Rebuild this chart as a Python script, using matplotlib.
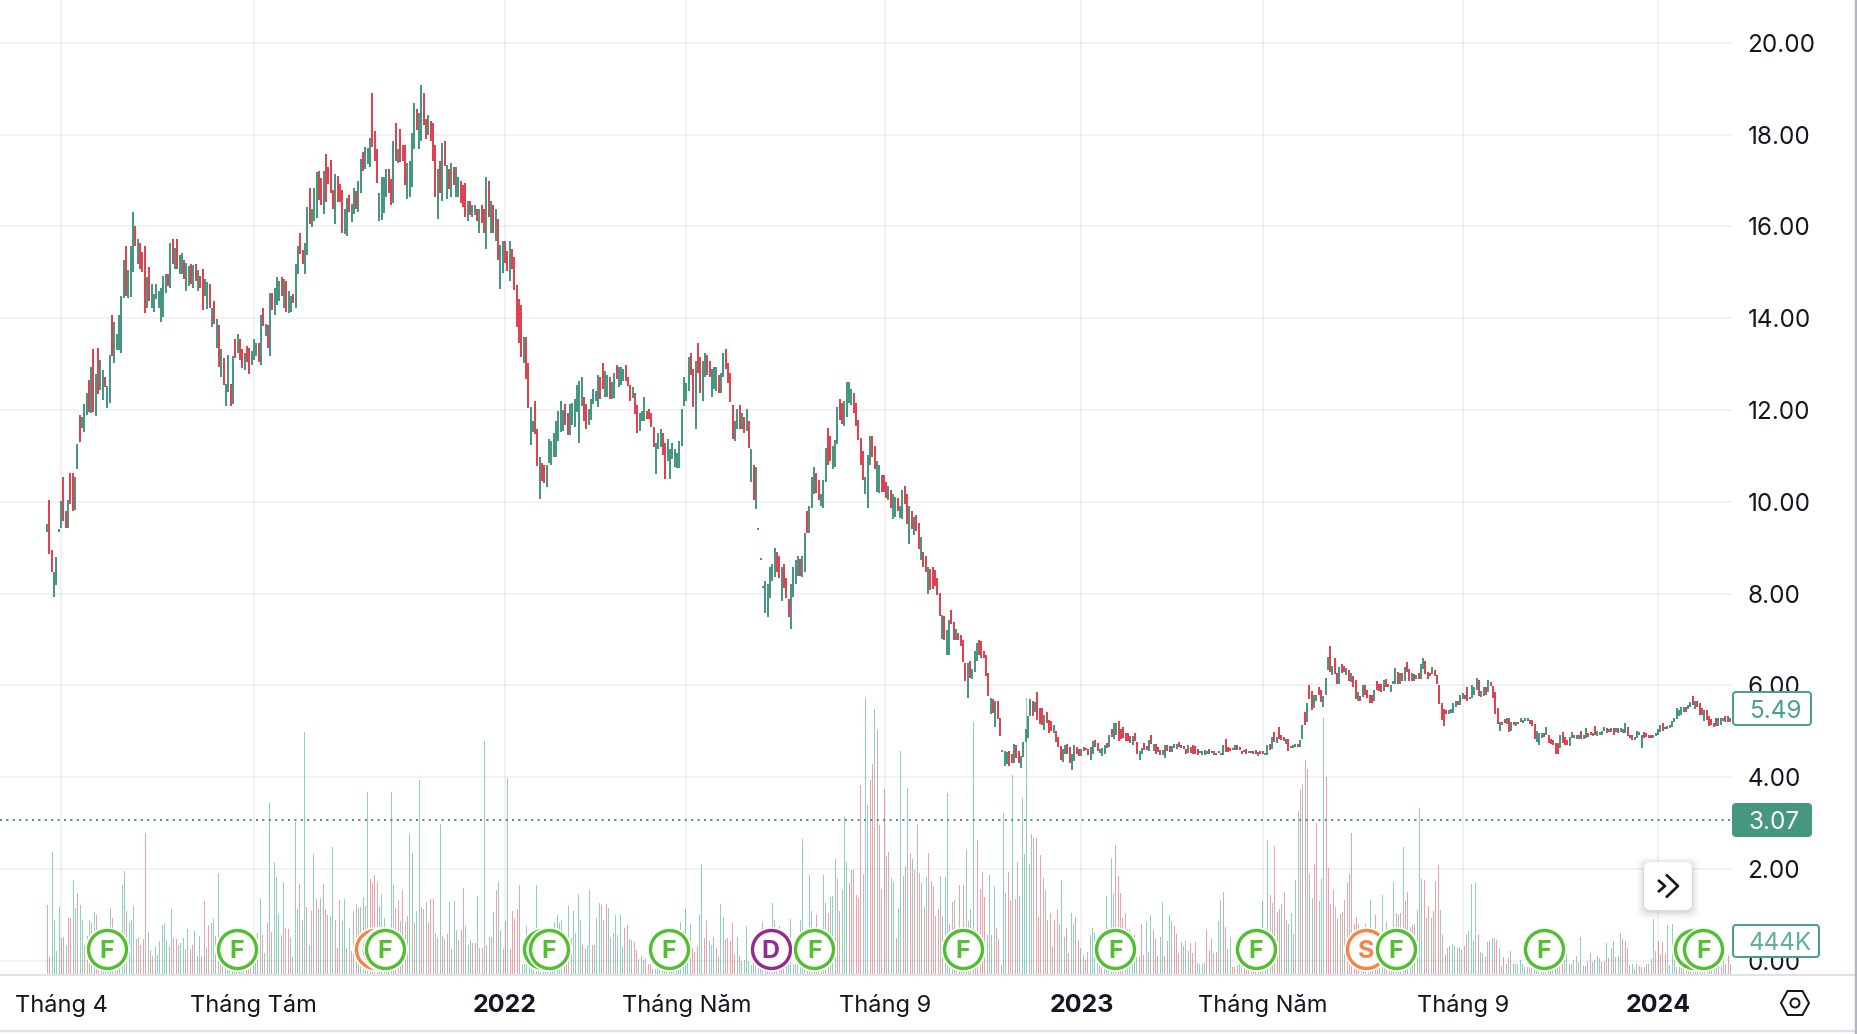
import numpy as np
import matplotlib
matplotlib.use("Agg")
import matplotlib.pyplot as plt
from matplotlib.patches import FancyBboxPatch, Circle, Polygon

plt.rcParams['font.family'] = ['Inter', 'DejaVu Sans']

highs = [
    9.52,10.05,8.96,8.48,8.79,9.41,10.02,10.54,9.80,10.05,
    10.62,10.62,10.54,11.26,11.89,11.84,12.13,12.37,12.65,12.93,
    13.32,12.78,13.35,13.09,12.87,12.72,12.52,13.20,14.07,13.91,
    13.66,14.07,14.49,15.27,15.57,15.05,15.57,16.31,16.01,15.73,
    15.64,15.44,15.57,14.89,15.11,14.75,14.53,14.75,14.59,14.66,
    14.92,14.96,14.96,15.64,15.73,15.53,15.73,15.38,15.42,15.27,
    15.21,15.14,15.18,15.16,15.18,15.05,14.92,15.07,14.86,14.79,
    14.75,14.23,14.37,13.98,13.85,13.33,13.14,12.57,13.20,12.57,
    13.17,13.55,13.66,13.55,13.32,13.25,13.39,13.35,13.28,13.55,
    13.46,13.46,14.07,14.23,13.88,13.85,14.55,14.55,14.66,14.89,
    14.81,14.89,14.86,14.81,14.59,14.49,14.53,15.18,15.57,15.86,
    15.49,15.64,16.42,16.84,16.38,16.84,17.18,17.21,17.06,17.21,
    17.58,17.29,17.45,16.79,17.14,17.10,16.93,16.79,16.38,16.62,
    16.68,16.49,16.84,16.77,16.99,17.47,17.62,17.73,17.71,17.93,
    18.91,18.08,17.68,16.73,17.07,17.07,17.25,17.25,17.04,17.86,
    18.25,17.69,18.12,17.77,17.77,17.39,17.42,18.04,18.69,18.55,
    18.47,19.08,18.91,18.34,18.43,18.30,18.25,17.77,17.25,17.42,
    17.82,17.86,17.34,17.25,17.39,17.29,17.29,17.07,16.99,16.90,
    16.95,16.55,16.55,16.47,16.47,16.38,16.38,16.47,16.38,17.07,
    16.99,16.55,16.47,16.38,16.16,15.60,15.68,15.68,15.46,15.68,
    15.51,15.33,14.72,14.42,14.29,13.59,13.59,13.03,12.06,11.76,
    12.19,11.58,10.97,10.85,10.80,10.80,11.37,11.32,11.50,11.76,
    11.98,12.20,12.01,12.14,11.93,12.14,12.16,12.24,12.54,12.63,
    12.72,12.28,12.14,12.02,12.24,12.46,12.41,12.76,12.72,13.02,
    12.85,12.76,12.72,12.60,12.80,12.98,12.93,12.93,12.89,12.98,
    12.72,12.54,12.50,12.37,12.11,11.93,11.98,12.28,11.98,12.02,
    11.93,11.63,11.28,11.50,11.59,11.50,11.28,11.37,11.15,11.28,
    11.15,11.07,11.33,12.02,12.72,12.59,13.15,13.24,12.89,13.07,
    13.46,13.15,13.07,13.24,13.20,13.07,12.89,12.93,12.93,12.76,
    12.80,13.24,13.33,13.02,12.80,12.11,11.76,12.02,12.11,11.93,
    11.85,12.02,11.76,11.15,10.80,10.76,9.43,8.78,8.17,8.28,
    8.20,8.57,8.65,9.00,8.91,8.83,8.57,8.65,8.35,7.89,
    8.20,8.57,8.74,8.83,8.76,8.83,9.33,9.80,9.91,10.54,
    10.76,10.63,10.48,10.17,10.48,11.17,11.61,11.43,11.22,11.35,
    12.07,12.24,12.15,12.20,12.61,12.61,12.46,12.37,12.15,11.78,
    11.39,11.11,10.54,11.02,11.43,11.43,11.22,10.89,10.80,10.59,
    10.59,10.43,10.35,10.26,10.17,10.11,10.09,9.91,10.26,10.35,
    10.17,9.91,9.80,9.67,9.72,9.54,9.24,8.91,8.83,8.59,
    8.54,8.59,8.52,8.35,8.02,7.54,7.52,7.20,7.43,7.65,
    7.39,7.22,7.15,7.09,7.00,6.48,6.48,6.54,6.35,6.76,
    6.93,6.98,6.96,6.76,6.67,6.28,5.72,5.70,5.67,5.65,
    5.28,4.59,4.57,4.54,4.57,4.50,4.72,4.70,4.57,4.46,
    4.76,5.04,5.33,5.70,5.67,5.63,5.85,5.50,5.50,5.35,
    5.41,5.24,5.22,5.13,5.00,4.87,4.67,4.61,4.70,4.72,
    4.65,4.50,4.70,4.65,4.61,4.61,4.65,4.63,4.61,4.65,
    4.78,4.80,4.74,4.61,4.63,4.70,4.74,4.91,5.04,5.17,
    5.17,5.22,5.04,5.09,4.96,4.96,4.89,4.89,4.96,4.76,
    4.57,4.63,4.74,4.67,4.80,4.91,4.72,4.72,4.65,4.59,
    4.59,4.70,4.70,4.67,4.67,4.72,4.72,4.76,4.70,4.67,
    4.61,4.70,4.65,4.70,4.67,4.61,4.57,4.57,4.59,4.57,
    4.61,4.57,4.57,4.52,4.57,4.52,4.70,4.83,4.65,4.63,
    4.63,4.70,4.70,4.65,4.57,4.59,4.61,4.57,4.57,4.57,
    4.59,4.54,4.57,4.57,4.52,4.70,4.72,4.87,4.98,4.87,
    5.09,4.91,4.87,4.83,4.83,4.67,4.70,4.72,4.72,4.80,
    5.13,5.41,5.61,6.00,5.87,5.80,5.78,5.96,5.91,5.76,
    6.17,6.61,6.85,6.43,6.59,6.26,6.39,6.46,6.43,6.37,
    6.33,6.28,6.20,6.11,5.85,5.76,6.00,6.00,5.91,5.80,
    5.80,5.91,6.09,6.02,6.04,6.11,6.13,6.04,6.00,6.09,
    6.37,6.30,6.26,6.26,6.39,6.52,6.35,6.26,6.24,6.22,
    6.28,6.46,6.59,6.54,6.30,6.28,6.39,6.33,6.22,6.00,
    5.61,5.48,5.46,5.46,5.48,5.61,5.67,5.67,5.78,5.83,
    5.78,5.96,5.74,6.00,5.96,6.17,6.11,5.87,5.96,5.96,
    6.11,6.07,5.98,5.85,5.50,5.20,5.20,5.26,5.30,5.30,
    5.20,5.20,5.20,5.20,5.28,5.24,5.30,5.28,5.24,5.24,
    5.15,5.00,4.96,4.96,4.96,5.09,4.91,4.83,4.80,4.74,
    4.74,4.91,4.98,4.87,4.80,4.87,4.98,4.93,4.91,4.91,
    5.00,4.93,5.07,4.96,4.98,4.96,5.11,5.00,4.98,5.00,
    5.09,5.07,5.04,5.07,5.07,5.07,5.07,5.07,5.04,5.17,
    5.09,4.91,4.91,4.87,5.00,4.98,4.93,4.98,4.96,4.93,
    4.91,4.93,4.96,5.04,5.13,5.17,5.09,5.11,5.13,5.22,
    5.30,5.50,5.46,5.54,5.54,5.52,5.57,5.63,5.76,5.67,
    5.65,5.61,5.50,5.46,5.46,5.33,5.26,5.17,5.30,5.30,
    5.30,5.30,5.33,5.33,5.28,
]
lows = [
    9.34,8.86,8.47,7.93,8.19,9.34,9.43,9.59,9.42,9.42,
    9.95,9.80,9.82,10.72,11.30,11.61,11.52,11.90,11.96,11.94,
    11.96,11.87,12.35,12.43,12.22,12.51,12.05,12.16,13.17,13.03,
    13.31,13.31,13.25,14.45,14.49,14.43,14.47,15.01,15.58,15.17,
    15.07,15.01,14.12,14.23,14.37,14.23,14.14,14.41,14.23,13.92,
    14.02,14.55,14.71,14.65,15.17,15.07,15.07,14.97,14.97,14.86,
    14.59,14.70,14.74,14.65,14.82,14.59,14.66,14.18,14.49,14.19,
    14.23,13.81,13.87,13.35,12.93,12.72,12.55,12.09,12.39,12.09,
    12.13,13.13,13.25,13.09,12.92,12.87,13.04,12.79,12.99,13.09,
    13.17,13.04,12.99,13.83,13.61,13.35,13.18,14.18,14.07,14.29,
    14.37,14.49,14.23,14.13,14.12,14.14,14.33,14.23,14.96,15.40,
    15.18,14.97,15.38,16.05,15.98,16.12,16.19,16.58,16.47,16.26,
    16.53,16.93,16.73,16.37,16.05,16.53,16.53,15.86,15.84,15.80,
    16.32,16.09,16.26,16.38,16.32,16.73,17.21,17.25,17.36,17.30,
    17.74,17.42,16.95,16.12,16.14,16.30,16.64,16.73,16.47,16.51,
    17.42,17.39,17.41,17.42,16.90,16.60,16.64,16.86,17.69,18.09,
    17.69,17.86,18.21,17.91,17.99,17.86,17.42,16.64,16.16,16.73,
    16.56,17.32,16.60,16.82,16.64,16.90,16.64,16.64,16.51,16.42,
    16.20,16.12,16.25,16.20,16.25,16.12,15.86,16.08,15.86,15.51,
    16.20,15.86,15.86,15.68,15.27,14.64,14.99,15.21,15.03,14.81,
    15.07,14.62,13.81,13.46,13.15,13.03,12.68,12.05,11.24,11.52,
    11.47,10.78,10.07,10.45,10.41,10.33,10.85,10.80,10.97,10.97,
    11.33,11.51,11.54,11.67,11.46,11.46,11.67,11.64,11.96,11.29,
    12.09,11.77,11.59,11.67,11.78,12.14,12.20,12.07,12.24,12.46,
    12.28,12.28,12.25,12.24,12.27,12.67,12.50,12.54,12.63,12.63,
    12.53,12.20,12.26,11.92,11.50,11.54,11.76,11.76,11.80,11.80,
    11.63,11.20,10.61,11.15,11.20,11.02,10.50,10.89,10.50,10.93,
    10.76,10.74,10.74,11.22,12.09,12.20,12.41,12.76,12.07,11.59,
    12.80,12.37,12.20,12.72,12.76,12.72,12.28,12.46,12.41,12.37,
    12.37,12.72,12.89,12.59,12.18,11.37,11.33,11.59,11.59,11.59,
    11.50,11.54,11.17,10.43,10.04,9.85,9.39,8.74,8.13,7.57,
    7.48,7.91,8.28,8.37,8.48,8.35,7.83,8.13,7.91,7.48,
    7.22,7.93,8.20,8.39,8.39,8.37,8.46,9.33,9.33,9.87,
    10.18,10.19,10.04,9.91,9.87,10.43,10.80,10.89,10.72,10.76,
    11.26,11.78,11.70,11.65,11.85,12.15,12.11,11.93,11.65,11.35,
    10.80,10.48,10.17,9.87,10.80,10.98,10.72,10.22,10.20,10.22,
    10.22,10.09,10.04,9.87,9.63,9.67,9.80,9.65,9.63,9.96,
    9.52,9.09,9.41,9.28,9.37,8.98,8.74,8.57,8.48,8.00,
    8.07,8.11,8.17,7.98,7.52,7.02,6.98,6.67,6.67,7.33,
    7.00,7.00,7.00,6.86,6.52,6.09,5.72,6.17,6.13,6.30,
    6.54,6.67,6.60,6.59,6.20,5.76,5.37,5.39,5.09,5.26,
    4.89,4.54,4.24,4.28,4.24,4.30,4.30,4.41,4.30,4.20,
    4.43,4.76,4.85,5.33,5.33,5.43,5.24,5.15,5.13,5.02,
    5.17,4.96,5.00,4.96,4.76,4.65,4.37,4.33,4.50,4.50,
    4.30,4.15,4.35,4.50,4.46,4.46,4.57,4.59,4.48,4.37,
    4.50,4.65,4.57,4.52,4.46,4.50,4.63,4.65,4.87,4.83,
    4.93,4.78,4.83,4.85,4.78,4.78,4.74,4.70,4.78,4.50,
    4.37,4.50,4.59,4.59,4.57,4.72,4.57,4.50,4.54,4.48,
    4.48,4.41,4.57,4.54,4.54,4.63,4.61,4.65,4.63,4.61,
    4.50,4.52,4.52,4.50,4.50,4.48,4.52,4.48,4.48,4.50,
    4.50,4.52,4.48,4.48,4.52,4.48,4.48,4.54,4.54,4.57,
    4.59,4.59,4.59,4.59,4.50,4.54,4.50,4.52,4.52,4.50,
    4.50,4.46,4.50,4.50,4.48,4.48,4.59,4.61,4.76,4.74,
    4.83,4.80,4.78,4.72,4.57,4.63,4.63,4.65,4.65,4.65,
    4.83,5.13,5.20,5.70,5.46,5.50,5.67,5.78,5.63,5.54,
    5.78,6.33,6.30,6.22,6.24,6.04,6.02,6.28,6.30,6.22,
    6.09,6.07,5.96,5.70,5.67,5.67,5.74,5.78,5.72,5.61,
    5.61,5.67,5.89,5.87,5.85,5.87,5.96,5.96,5.85,6.02,
    6.02,6.04,6.04,6.09,6.09,6.30,6.09,6.09,6.09,6.13,
    6.13,6.15,6.35,6.24,6.13,6.20,6.24,6.20,6.02,5.59,
    5.24,5.11,5.37,5.37,5.39,5.39,5.52,5.57,5.57,5.70,
    5.70,5.67,5.70,5.72,5.78,5.89,5.76,5.74,5.76,5.80,
    5.85,5.98,5.72,5.37,5.15,5.00,5.13,5.17,5.15,4.98,
    5.00,5.13,5.11,5.15,5.20,5.17,5.22,5.22,5.15,5.11,
    4.83,4.76,4.70,4.85,4.87,4.91,4.74,4.72,4.70,4.50,
    4.50,4.63,4.74,4.70,4.70,4.67,4.85,4.85,4.83,4.83,
    4.83,4.83,4.85,4.87,4.93,4.89,4.91,4.89,4.91,4.91,
    5.00,4.96,4.98,4.98,4.91,4.98,4.96,4.98,4.96,4.96,
    4.89,4.85,4.80,4.80,4.85,4.91,4.63,4.85,4.87,4.85,
    4.85,4.85,4.89,4.91,4.98,5.00,5.04,5.04,5.07,5.09,
    5.20,5.26,5.33,5.35,5.43,5.43,5.48,5.54,5.57,5.48,
    5.54,5.35,5.35,5.22,5.24,5.11,5.13,5.09,5.11,5.11,
    5.13,5.22,5.20,5.20,5.20,
]
# r = closed down, g = closed up, one letter per bar
candle_dirs = (
    "grrggggrrg" "rrggrgggrg" "rgrggrggrg" "ggggrgggrg" "rrrgrggggg"
    "ggrgrgrggr" "ggrgrgrrgg" "rgrgrgrggr" "grgrrgrrgg" "grgrgrgrgg"
    "grgrggrggr" "rggrgggrrg" "rrrrgrrrgg" "rggrggrggg" "rrrggggrrg"
    "rgrrrggggr" "ggrrgrrrgr" "grgrgrggrr" "rgrggrgrrg" "rgrgrggrrg"
    "rrrrrgrrgg" "rrgrrggggg" "gggrrggggg" "grrgggggrr" "ggrggrgggr"
    "rrgrrgggrr" "rrgggrrggg" "gggggggrrg" "rrggrrgggr" "ggrrrrggrg"
    "rgrgrggggg" "ggggrrgrrr" "ggggrggrgg" "grrgggrrgg" "grrggggrrr"
    "rrgggrrggr" "rrgrggrggr" "rgrgrrgrrg" "rrrrrgrggr" "rgrrrrgrgg"
    "grrrrrgrgr" "rgggrrgrrg" "ggggrgrrrg" "rrrgrrrggr" "rggrrgrrrg"
    "grrgggrgrg" "grrrrrrgrr" "ggrrgrgrrr" "ggrrgggrrr" "rgrrrrgggg"
    "rrgrrggrrr" "ggrrrgrggr" "rgrrggrgrg" "rrrgrgggrg" "grgrrggrrg"
    "ggrgrrgrrg" "rgrrgrgrrr" "rgrrrgrrgg" "grgrgrrgrg" "rggrrrgrrr"
    "rrrggggrgg" "rrggggrggr" "grrrrgrrgr" "grgrggggrr" "rgggrgrrrr"
    "rgrrrggrgg" "rggrrgrggg" "grrgrgrggg" "rrrggggrrr" "rggggrrggg"
    "gggggrggrg" "rrrgrrrrrg" "ggrrg"
)
price_ticks = [0, 2, 4, 6, 8, 10, 12, 14, 16, 18, 20]
price_labels = ['0.00', '2.00', '4.00', '6.00', '8.00', '10.00', '12.00', '14.00', '16.00', '18.00', '20.00']
time_bars = [6, 89, 197, 275, 360.5, 445, 523, 609, 693]
time_labels = ['Tháng 4', 'Tháng Tám', '2022', 'Tháng Năm', 'Tháng 9', '2023', 'Tháng Năm', 'Tháng 9', '2024']
year_labels = ['2022', '2023', '2024']
event_bars = [25.7, 81.6, 141.1, 144.4, 145.3, 213.2, 215.9, 267.4, 311.3, 330.1, 394, 459.6, 519.9, 567.3, 580.2, 643.9, 708.7, 712.6]
event_kinds = ['F', 'F', 'S', 'D', 'F', 'F', 'F', 'F', 'D', 'F', 'F', 'F', 'F', 'S', 'F', 'F', 'F', 'F']
# letters that stay visible, the others sit under the next badge
event_letters = ['F', 'F', '', '', 'F', '', 'F', 'F', 'D', 'F', 'F', 'F', 'F', 'S', 'F', 'F', '', 'F']

volumes = [
    960,235,1690,750,320,925,495,510,410,780,
    780,1300,915,1125,965,750,410,530,750,720,
    855,825,320,85,85,85,85,915,780,225,
    175,225,1235,1430,875,720,755,940,480,510,
    410,480,1965,580,335,250,395,270,455,680,
    695,455,395,900,495,480,405,430,495,345,
    620,345,405,595,250,530,250,1010,380,680,
    705,765,530,1400,545,175,85,85,85,85,
    85,85,85,85,85,85,590,590,135,225,
    570,1040,545,295,715,2380,590,1555,1345,840,
    545,1275,640,630,520,235,2115,900,1245,755,
    3370,925,410,875,1665,1040,900,1050,1245,905,
    825,800,1765,755,355,1025,735,1040,360,640,
    320,875,975,915,925,1065,950,2530,1320,1270,
    1370,1285,940,1115,780,545,640,2530,1235,915,
    1025,730,1165,720,800,1940,1680,705,880,2700,
    925,900,1000,720,1040,1040,565,505,2085,530,
    480,560,1000,345,1010,605,470,610,1190,670,
    410,470,435,435,1085,355,365,3240,410,515,
    515,865,1165,1275,605,345,735,2720,345,875,
    765,905,1235,135,135,665,250,170,125,1235,
    170,125,100,85,85,85,85,720,815,715,
    750,380,435,940,505,875,570,1115,750,410,
    345,410,1165,410,410,775,990,965,755,975,
    915,505,570,815,545,
    815,380,640,680,480,470,445,330,210,250,
    200,210,135,135,65,65,85,85,85,85,
    85,85,85,85,85,85,720,595,905,360,
    695,360,310,385,815,1535,505,750,455,410,
    515,360,245,970,795,480,505,455,720,275,
    515,250,180,200,665,180,125,360,335,85,
    85,720,85,85,85,985,750,595,665,285,
    320,370,540,765,135,135,180,750,1880,85,
    135,1370,875,555,815,135,555,1370,990,845,
    1065,1090,1595,1325,880,1165,2185,1560,1260,1440,
    1440,1105,1050,
    2625,1390,3830,2355,2695,2915,3690,3390,2070,1180,
    2570,1640,1700,1335,1280,505,910,3105,1360,1500,
    2580,1680,1600,1445,2080,1410,1265,930,1350,1680,
    1290,1220,805,900,1360,800,1350,2510,700,1000,
    1030,470,1235,610,1235,1720,735,900,3500,610,
    1860,1180,1415,1070,540,1375,540,1220,640,490,
    125,2235,1125,1415,1030,2765,1040,1555,1085,2445,
    1665,3830,1530,1950,1890,1890,790,1650,1335,1165,
    750,850,390,750,900,695,1305,510,640,290,
    850,695,790,470,360,265,195,305,540,640,
    565,150,120,100,120,
    1090,300,1610,1115,1800,1360,1120,780,845,620,
    620,410,545,420,250,695,260,720,300,815,
    605,505,250,520,1000,250,460,825,735,665,
    550,285,445,385,465,320,430,295,445,155,
    135,135,155,605,330,505,295,310,735,1025,
    1135,655,345,515,
    100,100,120,150,120,100,90,80,90,100,110,100,90,
    1015,225,1860,1100,990,1780,860,905,975,1140,750,700,850,555,1305,
    2265,2555,2640,2970,2850,1390,1055,1530,2100,1015,1335,3555,2735,1470,970,1165,
    930,765,835,860,1030,1280,1390,1960,700,790,700,
    330,300,695,260,1030,300,820,200,300,1100,250,720,200,200,
    1280,850,820,850,1765,1015,1140,650,680,695,890,2305,1320,1305,780,945,780,875,
    1290,1515,890,540,265,360,390,415,390,360,370,330,390,540,600,1250,460,1280,
    550,305,290,235,445,460,495,500,470,365,110,235,135,235,320,155,145,135,195,135,
    100,100,100,100,100,100,100,100,100,100,100,100,100,100,100,
    195,135,275,400,135,140,200,250,160,515,110,110,180,290,170,190,250,225,170,180,
    430,225,360,460,240,250,570,485,460,360,125,145,65,135,110,100,95,135,135,215,
    765,320,460,275,450,275,675,125,695,275,
    100,100,100,100,100,100,100,100,100,100,100,100,100,100,100,100,100,100,
    106,110,180,135,265,135,
]
volume_dirs = (
    "rrggggrrgr" "rggrggrrgr" "grrgggggrr" "ggggrgggrg" "rrrgrrgggg"
    "ggrgrrgggr" "grrgrgrrgr" "ggrgrggggg" "grrggrrrgg" "rgrgrgrggg"
    "rgrrgrggrg" "grgrgrggrr" "rggrrrggrg" "rrgrggrgrr" "rrgggrrggr"
    "rgrgrggrgg" "rrgrrrgrgr" "grgrggrrrg" "ggrrgrrgrg" "rgrggrrgrr"
    "rrrggggggg" "rgggrggggg" "grrgrggggr" "rggrgggrgr" "ggrgg"
    "ggrrggrrgg" "rrrrgggggg" "gggggggggg" "grrrggrrgg" "grgggrrrrr"
    "grgggggrgg" "gggrggrggr" "rgggrggggr" "rggrrgggrr" "gggrrgggrr"
    "rrr"
    "rgggrrgrrr" "rgrggrggrr" "grgrrgrrgr" "rrrrgrgggr" "grrgrgrggr"
    "rrrrggrgrr" "gggrrgrrgg" "gggrgrrrgr" "rrgrrrggrr" "ggrrgrrrgg"
    "ggrrg"
    "ggggrrrrrg" "ggggrrrgrg" "rrrggrrggr" "rrgrggrrrg" "gggrrgrrgg"
    "rrgg"
    "rrgrgrrrrrrgr"
    "gggrgrrrgrgggrg"
    "grgrrggrrgggrrrr"
    "grrgrgrrrrg"
    "grrggrrrggrrrg"
    "grgrgrrgrgrggrgrgr"
    "rrgrrgrggrggrrgggg"
    "rggrrrgrrgrrgrgggggg"
    "grgrgrgrgrgrgrg"
    "rrggrggrggrrgrggggrr"
    "grgrgggrrrgggrrrrgrg"
    "grrgrrgggg"
    "grgrgrgrgrgrgrgrgr"
    "ggrrrg"
)

NAVY = '#131722'
GREEN = '#459782'
RED = '#e0434f'
VOL_GREEN = '#8fd0c1'
VOL_RED = '#f2a0a7'
LABEL_GREEN = '#4aa08a'
W, H = 1858, 1034
PLOT_R, PLOT_B = 1732, 974

# price scale taken from the gridlines: 18.00 at y=134.6, 45.9 px per unit
n = min(len(highs), len(lows))
bar_px = (1730 - 47) / (n - 1)
x_left = -47 / bar_px
x_right = x_left + PLOT_R / bar_px
y_top = 18 + 134.6 / 45.9
y_bottom = 18 - (PLOT_B - 134.6) / 45.9
px = 72 / 100

fig = plt.figure(figsize=(W / 100, H / 100), dpi=100, facecolor='white')
rect = [0, 1 - PLOT_B / H, PLOT_R / W, PLOT_B / H]
ax = fig.add_axes(rect)
ax_vol = ax.twinx()
ax.set_zorder(2)
ax_vol.set_zorder(1)
ax.patch.set_visible(False)

# volume, own scale (13.9K per pixel)
m = min(len(volumes), len(volume_dirs))
vol_x = np.linspace(0, n - 1, m)
vol_cols = [VOL_RED if d == 'r' else VOL_GREEN for d in volume_dirs[:m]]
ax_vol.vlines(vol_x, 0, volumes[:m], colors=vol_cols, linewidth=0.9 * px, antialiased=False)
ax_vol.set_ylim(0, PLOT_B * 13.9)
ax_vol.axis('off')

# candles
cols = [RED if d == 'r' else GREEN for d in candle_dirs[:n]]
ax.vlines(np.arange(n), lows[:n], highs[:n], colors=cols, linewidth=1.9 * px, antialiased=False, zorder=3)
ax.axhline(3.07, color=GREEN, linewidth=2 * px, linestyle=(0, (1, 2.2)), zorder=4)

ax.set_xlim(x_left, x_right)
ax.set_ylim(y_bottom, y_top)
ax_vol.set_xlim(x_left, x_right)

for s in ax.spines.values():
    s.set_visible(False)
ax.set_yticks(price_ticks)
ax.set_yticklabels(price_labels)
ax.set_xticks(time_bars)
ax.set_xticklabels(time_labels)
ax.grid(True, color='black', alpha=0.05, linewidth=2 * px, zorder=0)
ax.set_axisbelow(True)
ax.tick_params(axis='y', left=False, right=False, labelleft=False, labelright=True,
               length=0, pad=15.5 * px, labelsize=17.5, labelcolor=NAVY)
ax.tick_params(axis='x', bottom=False, length=0, pad=20 * px, labelsize=17, labelcolor=NAVY)
for t in ax.get_xticklabels():
    if t.get_text() in year_labels:
        t.set_fontweight('bold')
        t.set_fontsize(18)

# corporate event badges
ev_y = 18 - (948.7 - 134.6) / 45.9
ev_cols = {'F': '#52bf32', 'S': '#f38545', 'D': '#962a8f'}
for b, k, letter in zip(event_bars, event_kinds, event_letters):
    c = ev_cols[k]
    ax.scatter([b], [ev_y], s=(45 * px) ** 2, color='white', zorder=5, linewidths=0, clip_on=False)
    ax.scatter([b], [ev_y], s=(38 * px) ** 2, facecolor='white', edgecolor=c,
               linewidths=3.4 * px, zorder=5)
    if letter:
        ax.text(b, ev_y, letter, color=c, fontsize=18, fontweight='bold', ha='center',
                va='center_baseline', zorder=5)

# overlay in pixel coordinates for the price tags and chart chrome
ov = fig.add_axes([0, 0, 1, 1], zorder=5)
ov.set_xlim(0, W)
ov.set_ylim(H, 0)
ov.axis('off')
ov.patch.set_visible(False)


def tag(x0, y0, x1, y1, text, face, edge, col):
    ov.add_patch(FancyBboxPatch((x0, y0), x1 - x0, y1 - y0, boxstyle="round,pad=0,rounding_size=3",
                                facecolor=face, edgecolor=edge, linewidth=2 * px))
    ov.text(1749, (y0 + y1) / 2, text, color=col, fontsize=17.5, ha='left', va='center_baseline')


tag(1733, 692, 1811, 725, '5.49', 'white', LABEL_GREEN, LABEL_GREEN)
tag(1733, 804, 1811, 836, '3.07', GREEN, GREEN, 'white')
tag(1733, 925, 1819, 957, '444K', 'white', LABEL_GREEN, '#5fb09c')

# frame lines
ov.plot([0, PLOT_R], [974.5, 974.5], color='#dfe2e8', linewidth=2 * px)
ov.plot([PLOT_R + 2, W], [974.5, 974.5], color='#dfe2e8', linewidth=2 * px)
ov.plot([0, W], [1030.5, 1030.5], color='#dfe2e8', linewidth=2.5 * px)
ov.plot([1856.5, 1856.5], [0, H], color='#b2b6c2', linewidth=2.5 * px)

# scroll button
for grow, alpha in [(7, 0.02), (5, 0.03), (3, 0.04), (1, 0.05)]:
    ov.add_patch(FancyBboxPatch((1644 - grow, 862 - grow + 2), 48 + 2 * grow, 48 + 2 * grow,
                                boxstyle="round,pad=0,rounding_size=8", facecolor='black',
                                edgecolor='none', alpha=alpha))
ov.add_patch(FancyBboxPatch((1644, 862), 48, 48, boxstyle="round,pad=0,rounding_size=7",
                            facecolor='white', edgecolor='none'))
ov.plot([1658, 1665, 1658], [880, 886, 892], color=NAVY, linewidth=2.7 * px, solid_capstyle='butt')
ov.plot([1666, 1678, 1666], [874.5, 886, 897.5], color=NAVY, linewidth=2.7 * px, solid_capstyle='butt')

# settings icon
ov.add_patch(Polygon([(1781, 1003), (1787.5, 991), (1802.5, 991), (1809, 1003), (1802.5, 1015), (1787.5, 1015)],
                     closed=True, fill=False, edgecolor=NAVY, linewidth=2 * px))
ov.add_patch(Circle((1795, 1003), 4.5, fill=False, edgecolor=NAVY, linewidth=2 * px))

fig.savefig('out.png', dpi=100)
